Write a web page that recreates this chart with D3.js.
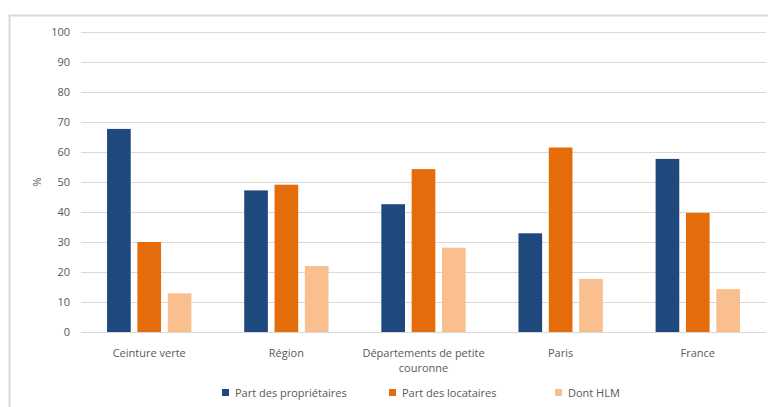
<!DOCTYPE html>
<html lang="fr">
<head>
  <meta charset="UTF-8" />
  <title>Statut d'occupation</title>
  <script src="https://d3js.org/d3.v7.min.js"></script>
  <style>
    body { margin: 0; background: #fff; }
    svg { display: block; font-family: "Open Sans", sans-serif; }
    .tick text { fill: #595959; font-size: 11px; }
    .lbl { fill: #595959; font-size: 11px; }
  </style>
</head>
<body>
  <svg></svg>
  <script>
    const categories = ["Ceinture verte", "Région", "Départements de petite couronne", "Paris", "France"];
    const seriesNames = ["Part des propriétaires", "Part des locataires", "Dont HLM"];
    const proprietaires = [67.7, 47.2, 42.6, 32.9, 57.7];
    const locataires = [30.0, 49.1, 54.3, 61.5, 39.7];
    const hlm = [12.9, 22.0, 28.1, 17.7, 14.3];
    const yTicks = [0, 10, 20, 30, 40, 50, 60, 70, 80, 90, 100];

    const colors = ["#1f497d", "#e46c0a", "#f9bf8f"];
    const series = [proprietaires, locataires, hlm];

    const width = 768, height = 407;
    const svg = d3.select("svg").attr("width", width).attr("height", height);

    // cadre du graphique
    svg.append("rect")
      .attr("x", 9.5).attr("y", 15.5)
      .attr("width", 770).attr("height", 400)
      .attr("fill", "none").attr("stroke", "#d9d9d9").attr("stroke-width", 2);

    const x0 = d3.scaleBand().domain(categories).range([81, 766]).paddingInner(0.385).paddingOuter(0.19);
    const x1 = d3.scaleBand().domain(seriesNames).range([0, x0.bandwidth()]).paddingInner(0.22);
    const y = d3.scaleLinear().domain([0, 100]).range([332, 32]);

    // grille
    svg.append("g").selectAll("line").data(yTicks).join("line")
      .attr("x1", 81).attr("x2", 766)
      .attr("y1", d => Math.round(y(d)) + 0.5).attr("y2", d => Math.round(y(d)) + 0.5)
      .attr("stroke", "#d9d9d9").attr("stroke-width", 1);

    const yAxis = svg.append("g")
      .attr("transform", "translate(70,0)")
      .call(d3.axisLeft(y).tickValues(yTicks).tickSize(0).tickPadding(0));
    yAxis.select(".domain").remove();
    yAxis.selectAll("text").attr("x", 0).style("font-family", "Open Sans");

    svg.append("text").attr("class", "lbl")
      .attr("transform", "translate(41,182) rotate(-90)")
      .attr("text-anchor", "middle").text("%");

    // barres
    const groups = svg.append("g").selectAll("g").data(categories).join("g")
      .attr("transform", d => `translate(${x0(d)},0)`);
    groups.selectAll("rect")
      .data((c, i) => seriesNames.map((s, j) => ({ s, v: series[j][i], j })))
      .join("rect")
      .attr("x", d => x1(d.s))
      .attr("width", x1.bandwidth())
      .attr("y", d => y(d.v))
      .attr("height", d => y(0) - y(d.v))
      .attr("fill", d => colors[d.j]);

    // étiquettes des catégories
    const wrap = { "Départements de petite couronne": ["Départements de petite", "couronne"] };
    categories.forEach(c => {
      const lines = wrap[c] || [c];
      const t = svg.append("text").attr("class", "lbl")
        .attr("text-anchor", "middle")
        .attr("x", x0(c) + x0.bandwidth() / 2).attr("y", 357);
      lines.forEach((l, i) => t.append("tspan")
        .attr("x", x0(c) + x0.bandwidth() / 2).attr("dy", i ? 15 : 0).text(l));
    });

    // légende
    const legendX = [222, 389, 555];
    seriesNames.forEach((s, i) => {
      svg.append("rect").attr("x", legendX[i]).attr("y", 389)
        .attr("width", 7).attr("height", 7).attr("fill", colors[i]);
      svg.append("text").attr("class", "lbl")
        .attr("x", legendX[i] + 13).attr("y", 396.5).text(s);
    });
  </script>
</body>
</html>
